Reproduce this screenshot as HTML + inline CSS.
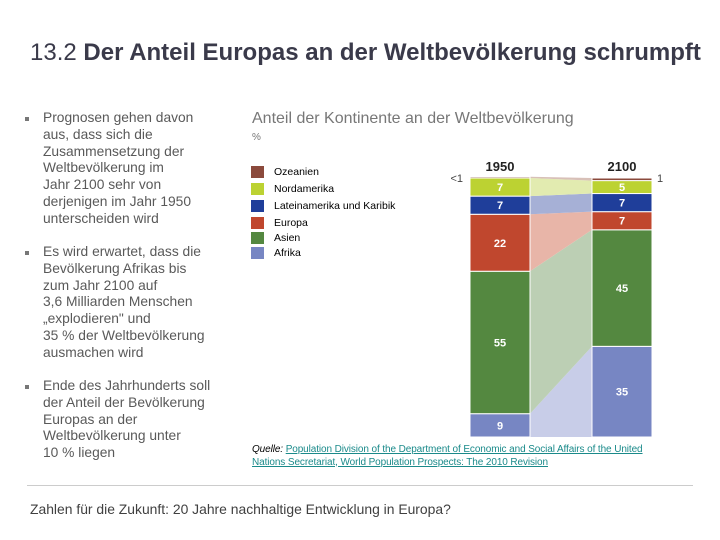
<!DOCTYPE html>
<html><head><meta charset="utf-8"><style>
body{margin:0;width:720px;height:540px;background:#fff;font-family:"Liberation Sans",sans-serif;position:relative;overflow:hidden;color:#404040}
.abs{position:absolute}
h1{position:absolute;left:30px;top:39px;margin:0;font-size:24px;font-weight:normal;color:#3a3a4a;white-space:nowrap}
h1 b{font-weight:bold}
.bl{position:absolute;left:43px;font-size:13.8px;line-height:16.8px;color:#595959;white-space:nowrap}
.bl:before{content:"";position:absolute;left:-18px;top:7px;width:4px;height:4px;background:#777}
</style></head><body>
<h1>13.2 <b>Der Anteil Europas an der Weltbevölkerung schrumpft</b></h1>
<div class="bl" style="top:110px">Prognosen gehen davon<br>aus, dass sich die<br>Zusammensetzung der<br>Weltbevölkerung im<br>Jahr 2100 sehr von<br>derjenigen im Jahr 1950<br>unterscheiden wird</div>
<div class="bl" style="top:244px">Es wird erwartet, dass die<br>Bevölkerung Afrikas bis<br>zum Jahr 2100 auf<br>3,6 Milliarden Menschen<br>„explodieren" und<br>35 % der Weltbevölkerung<br>ausmachen wird</div>
<div class="bl" style="top:378px">Ende des Jahrhunderts soll<br>der Anteil der Bevölkerung<br>Europas an der<br>Weltbevölkerung unter<br>10 % liegen</div>
<div class="abs" style="left:252px;top:110px;font-size:16px;color:#777;white-space:nowrap">Anteil der Kontinente an der Weltbevölkerung</div>
<div class="abs" style="left:252px;top:132px;font-size:10px;color:#777">%</div>
<div id="legend"></div>
<svg class="abs" style="left:0;top:0" width="720" height="540" id="chart"></svg>
<div class="abs" style="left:252px;top:444px;width:420px;font-size:10px;line-height:12.5px;color:#000;white-space:nowrap;letter-spacing:-0.1px"><i>Quelle:</i> <span style="color:#1a8a8a;text-decoration:underline">Population Division of the Department of Economic and Social Affairs of the United<br>Nations Secretariat, World Population Prospects: The 2010 Revision</span></div>
<div class="abs" style="left:27px;top:485px;width:666px;height:1px;background:#ccc"></div>
<div class="abs" style="left:30px;top:501px;font-size:13.9px;color:#404040;white-space:nowrap">Zahlen für die Zukunft: 20 Jahre nachhaltige Entwicklung in Europa?</div>
<script>
const regions=["Afrika","Asien","Europa","Lateinamerika und Karibik","Nordamerika","Ozeanien"];
const values1950=[9,55,22,7,7,0.5];
const values2100=[35,45,7,7,5,1];
const labels1950=["9","55","22","7","7","<1"];
const labels2100=["35","45","7","7","5","1"];
const years=["1950","2100"];
const colors=["#7786c3","#548840","#c0472e","#1f3e9a","#bcd232","#8b4a3c"];
const light=["#c8cde8","#bccfb4","#e8b5a8","#a6b0d6","#e2ebb0","#d8c0b8"];
const NS="http://www.w3.org/2000/svg";
const svg=document.getElementById('chart');
const top0=178,bot=437;
const y=v=>bot-(v/100)*(bot-top0);
const bx=[470,592],bw=60;
function mk(t,a){const e=document.createElementNS(NS,t);for(const k in a)e.setAttribute(k,a[k]);svg.appendChild(e);return e;}
const series=[values1950,values2100];
const cum=series.map(s=>{let c=0;return s.map(v=>{const r=[c,c+v];c+=v;return r;});});
for(let i=0;i<regions.length;i++){
  const a=cum[0][i],b=cum[1][i];
  const p=mk('polygon',{points:`${bx[0]+bw},${y(a[0])} ${bx[1]},${y(b[0])} ${bx[1]},${y(b[1])} ${bx[0]+bw},${y(a[1])}`,fill:light[i]});
  
  
}
for(let s=0;s<2;s++){
  for(let i=0;i<regions.length;i++){
    const c=cum[s][i];
    const r=mk('rect',{x:bx[s],y:y(c[1]),width:bw,height:y(c[0])-y(c[1]),fill:colors[i],stroke:'#fff','stroke-width':1});
    
    
    if(i<5){
      const t=mk('text',{x:bx[s]+bw/2,y:(y(c[0])+y(c[1]))/2+4,'text-anchor':'middle','font-size':11,'font-weight':'bold',fill:'#fff','font-family':'Liberation Sans'});
      t.textContent=(s==0?labels1950:labels2100)[i];
      
      
    }
  }
  const yt=mk('text',{x:bx[s]+bw/2,y:171,'text-anchor':'middle','font-size':13,'font-weight':'bold',fill:'#222','font-family':'Liberation Sans'});
  yt.textContent=years[s];
  
  
}
const o1=mk('text',{x:463,y:182,'text-anchor':'end','font-size':11,fill:'#444','font-family':'Liberation Sans'});
o1.textContent=labels1950[5];


const o2=mk('text',{x:657,y:182,'font-size':11,fill:'#444','font-family':'Liberation Sans'});
o2.textContent=labels2100[5];


const legOrder=[5,4,3,2,1,0];
const legTops=[166,183,200,217,232,247];
const lg=document.getElementById('legend');
legOrder.forEach((idx,k)=>{
  const sw=document.createElement('div');
  sw.className='abs';
  sw.style.cssText=`left:251px;top:${legTops[k]}px;width:13px;height:12px;background:${colors[idx]}`;
  
  
  lg.appendChild(sw);
  const tx=document.createElement('div');
  tx.className='abs';
  tx.style.cssText=`left:274px;top:${legTops[k]}px;font-size:10.5px;color:#000;white-space:nowrap`;
  tx.textContent=regions[idx];
  
  
  lg.appendChild(tx);
});
</script>
</body></html>
